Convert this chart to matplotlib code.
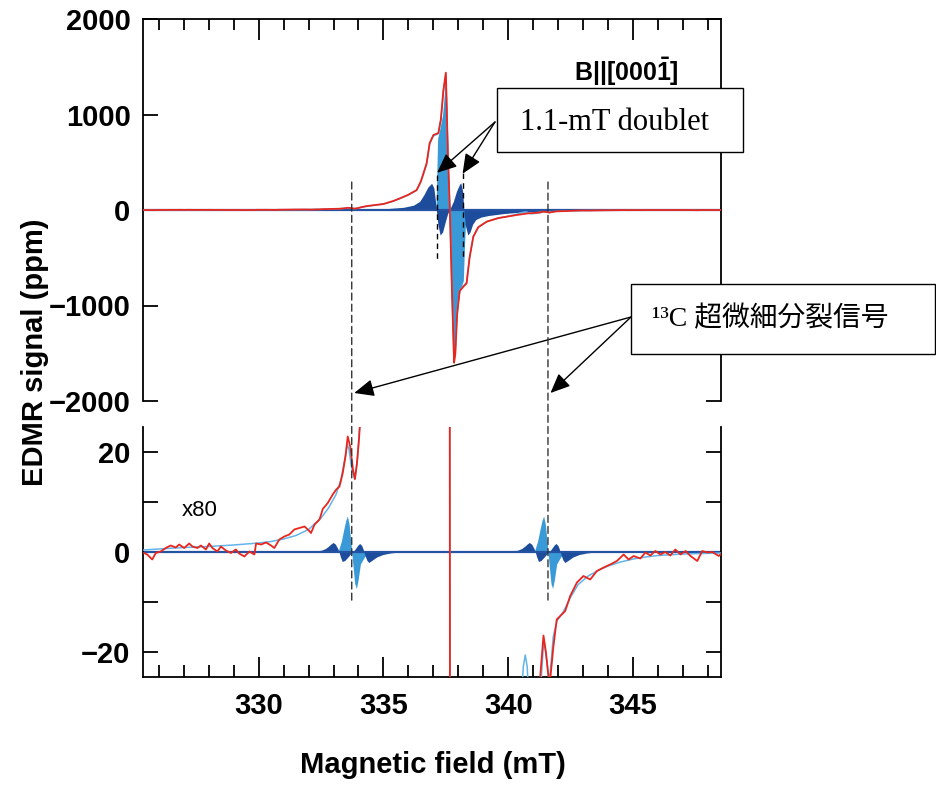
import numpy as np
import matplotlib.pyplot as plt
from matplotlib.ticker import MultipleLocator
from matplotlib.patches import Rectangle, ConnectionPatch

# ---- data ----
# experimental EDMR spectrum (red), field in mT, signal in ppm
exp_field = [325.41, 325.54, 325.74, 325.88, 326.08, 326.28, 326.48, 326.68, 326.82, 327.02,
             327.22, 327.35, 327.55, 327.69, 327.89, 328.02, 328.15, 328.35, 328.49, 328.69,
             328.89, 329.09, 329.22, 329.43, 329.63, 329.83, 329.9, 330.1, 330.3, 330.5,
             330.63, 330.83, 331.03, 331.23, 331.43, 331.63, 331.84, 331.97, 332.1, 332.24,
             332.44, 332.57, 332.77, 332.97, 333.11, 333.24, 333.37, 333.48, 333.57, 333.67,
             333.78, 333.86, 333.94, 334.02, 334.07,
             334.3, 334.6, 335.0, 335.4, 335.66, 336.0, 336.33, 336.5, 336.73, 336.85,
             337.0, 337.2, 337.3, 337.4, 337.5, 337.58, 337.66, 337.75, 337.83, 337.88,
             337.95, 338.05, 338.2, 338.33, 338.45, 338.6, 338.8, 339.14, 339.6, 340.34,
             340.8, 341.1,
             341.27, 341.41, 341.51, 341.65, 341.81, 341.94, 342.08, 342.28, 342.48, 342.61,
             342.75, 343.01, 343.28, 343.55, 343.82, 344.08, 344.35, 344.62, 344.82, 345.02,
             345.29, 345.49, 345.69, 345.89, 346.09, 346.29, 346.49, 346.69, 346.9, 347.1,
             347.3, 347.57, 347.77, 347.97, 348.17, 348.43, 348.52]
exp_ppm = [-0.2, -0.5, -1.5, -0.2, 0.1, 0.8, 1.3, 0.9, 1.5, 0.8,
           1.7, 1.1, 0.8, 1.3, 0.5, 1.7, 0.8, 0.1, 1.1, 0.3,
           -0.2, 0.5, -0.3, -0.9, 0.1, -0.5, 1.7, 1.5, 1.9, 1.3,
           0.8, 2.5, 3.1, 3.5, 4.5, 4.8, 5.1, 4.5, 3.8, 5.5,
           6.5, 8.6, 9.8, 11.5, 12.5, 13.1, 15.8, 19.1, 23.1, 21.1,
           16.5, 14.6, 17.8, 22.5, 26.5,
           40, 50, 63, 95, 122, 160, 209, 300, 489, 700,
           785, 806, 950, 1250, 1438, 600, 0, -900, -1600, -1500,
           -1100, -850, -803, -768, -500, -279, -180, -122, -85, -52,
           -35, -30,
           -25.5, -16.7, -20.1, -27, -18.8, -13.5, -12.8, -11.8, -8.8, -7.5,
           -6.1, -4.8, -5.5, -3.8, -3.1, -2.5, -1.8, -0.5, -1.5, -0.8,
           -1.3, -0.1, -0.7, 0.2, -0.5, 0, -0.7, 0.5, -0.5, 0.2,
           -0.8, -1.8, 0.2, -0.1, 0, -0.8, -0.4]

# simulated spectrum (light blue line)
sim_field = [325.37, 326.0, 327.0, 328.0, 329.0, 330.0, 330.5, 331.0, 331.5, 332.0,
             332.5, 332.8, 333.1, 333.3, 333.45, 333.55, 333.62, 333.72, 333.85, 333.95,
             334.05, 334.2, 334.6, 335.0, 335.4, 335.66, 336.0, 336.33, 336.5, 336.73,
             336.85, 337.0, 337.2, 337.3, 337.4, 337.5, 337.58, 337.66, 337.75, 337.83,
             337.88, 337.95, 338.05, 338.2, 338.33, 338.45, 338.6, 338.8, 339.14, 339.6,
             340.0, 340.4, 340.6, 340.68, 340.76, 340.9, 341.1, 341.3, 341.42, 341.52,
             341.65, 341.8, 341.95, 342.2, 342.5, 342.8, 343.2, 343.6, 344.0, 344.5,
             345.0, 345.5, 346.0, 347.0, 348.52]
sim_ppm = [0.4, 0.6, 0.9, 1.1, 1.4, 1.8, 2.1, 2.6, 3.3, 4.5,
           6.8, 8.8, 11.5, 14.5, 18.5, 21.5, 20.5, 17.0, 14.5, 18.0,
           25.0, 33, 48, 62, 92, 120, 158, 205, 295, 480,
           690, 775, 800, 940, 1240, 1420, 590, 0, -890, -1580,
           -1480, -1090, -840, -795, -760, -495, -275, -178, -120, -84,
           -65, -40, -23, -20.6, -23, -40, -35, -27, -17.5, -21,
           -26, -17, -13.8, -12, -9, -6.5, -4.8, -3.7, -2.8, -2.0,
           -1.4, -1.0, -0.7, -0.4, -0.2]

# central line component (light blue fill), offset from centre field
center_field = 337.67
ctr_dx = [-0.62, -0.56, -0.53, -0.5, -0.42, -0.3, -0.22, -0.17, -0.13, -0.08, -0.03,
          0.0, 0.03, 0.08, 0.16, 0.22, 0.3, 0.42, 0.53, 0.58, 0.64]
ctr_ppm = [0, 60, 400, 750, 840, 1000, 1250, 1430, 1100, 550, 150,
           0, -500, -1150, -1600, -1300, -1000, -820, -740, -350, 0]

# 1.1-mT doublet component (dark blue fill)
dbl_field = [333.0, 334.0, 335.0, 335.8, 336.2, 336.45, 336.62, 336.78, 336.93, 337.02,
             337.08, 337.12, 337.18, 337.27, 337.37, 337.47, 337.57, 337.64, 337.8, 337.93,
             338.05, 338.1, 338.17, 338.22, 338.28, 338.38, 338.47, 338.57, 338.7, 338.9,
             339.2, 339.8, 340.5, 341.5, 342.5, 343.5]
dbl_ppm = [0, 5, 12, 28, 50, 90, 160, 240, 280, 230,
           100, 0, -150, -262, -230, -130, -40, 0, 90, 200,
           270, 283, 200, 0, -160, -262, -230, -150, -100, -75,
           -58, -38, -22, -10, -4, 0]

# 13C hyperfine satellites (x80 panel)
sat_centers = [333.73, 341.59]
sat_dx = [-0.55, -0.415, -0.32, -0.24, -0.174, -0.107, -0.054, 0.0, 0.054, 0.12,
          0.187, 0.254, 0.348, 0.52, 0.72]
sat_val = [0, 2.2, 4.5, 6.3, 7.2, 5.6, 3.0, 0, -3.0, -6.3,
           -7.3, -5.6, -2.4, -0.9, 0]
satd_dx = [-2.6, -2.0, -1.5, -1.22, -1.05, -0.92, -0.82, -0.75, -0.66, -0.56,
           -0.51, -0.45, -0.38, -0.28, -0.15, -0.05, 0.05, 0.15, 0.25, 0.32,
           0.4, 0.46, 0.52, 0.6, 0.68, 0.8, 1.0, 1.25, 1.55, 1.9]
satd_val = [0, 0.1, 0.2, 0.35, 0.7, 1.2, 1.65, 1.9, 1.6, 0.7,
            0, -1.0, -1.9, -1.7, -1.0, -0.4, 0, 0.7, 1.4, 1.7,
            1.3, 0.5, -0.5, -1.6, -2.1, -1.7, -1.0, -0.5, -0.2, 0]

doublet_lines = [337.15, 338.17]

RED = '#e8261e'
SIM = '#62b4ea'
LIGHT = '#3a9ad8'
DARK = '#1e4c9c'
BASE = '#2553a3'
FONT = ['Liberation Sans Narrow', 'Liberation Sans', 'DejaVu Sans']

plt.rcParams['font.family'] = FONT
plt.rcParams['font.weight'] = 'bold'
plt.rcParams['axes.linewidth'] = 1.3
plt.rcParams['mathtext.default'] = 'regular'

W, H = 936, 785


def px(x, y):
    return (x / W, 1 - y / H)


fig = plt.figure(figsize=(9.36, 7.85), dpi=100)
ax1 = fig.add_axes([143 / W, 1 - 401 / H, (721 - 143) / W, (401 - 19) / H])
ax2 = fig.add_axes([143 / W, 1 - 677 / H, (721 - 143) / W, (677 - 427) / H], sharex=ax1)

# top panel
ax1.fill_between(center_field + np.array(ctr_dx), 0, ctr_ppm, color=LIGHT, lw=0, zorder=1)
ax1.fill_between(dbl_field, 0, dbl_ppm, color=DARK, lw=0, zorder=1.5)
ax1.axhline(0, color=BASE, lw=1.6, zorder=2)
ax1.plot(sim_field, sim_ppm, color=SIM, lw=1.1, zorder=3)
ax1.plot(exp_field, exp_ppm, color=RED, lw=1.3, zorder=4)
for xd, (y0, y1) in zip(doublet_lines, [(366, -545), (387, -503)]):
    ax1.plot([xd, xd], [y0, y1], color='black', lw=1, ls=(0, (4, 3)), zorder=5)

# bottom panel (x80)
for c in sat_centers:
    ax2.fill_between(c + np.array(sat_dx), 0, sat_val, color=LIGHT, lw=0, zorder=1)
    ax2.fill_between(c + np.array(satd_dx), 0, satd_val, color=DARK, lw=0, zorder=1.5)
ax2.axhline(0, color=BASE, lw=1.6, zorder=2)
ax2.plot(sim_field, sim_ppm, color=SIM, lw=1.1, zorder=3)
ax2.plot(exp_field, exp_ppm, color=RED, lw=1.3, zorder=4)

ax1.set_xlim(325.37, 348.52)
ax1.set_ylim(-2000, 2000)
ax2.set_ylim(-25, 25)

ax1.xaxis.set_major_locator(MultipleLocator(5))
ax1.xaxis.set_minor_locator(MultipleLocator(1))
ax1.set_yticks([-2000, -1000, 0, 1000, 2000])
ax2.set_yticks([-20, -10, 0, 10, 20], labels=['\u221220', '', '0', '', '20'])

ax1.spines['bottom'].set_visible(False)
ax2.spines['top'].set_visible(False)

ax1.tick_params(axis='x', which='both', direction='in', top=True, bottom=False,
                labelbottom=False, width=1.3)
ax1.tick_params(axis='x', which='major', length=15)
ax1.tick_params(axis='x', which='minor', length=8)
ax2.tick_params(axis='x', which='both', direction='in', top=False, bottom=True,
                labelsize=21, pad=11, width=1.3)
ax2.tick_params(axis='x', which='major', length=14.5)
ax2.tick_params(axis='x', which='minor', length=8.5)
for ax in (ax1, ax2):
    ax.tick_params(axis='y', direction='in', left=True, right=True, length=11,
                   width=1.3, labelsize=21, pad=9)

# long dashed guide lines for 13C satellites through both panels
for xs in sat_centers:
    con = ConnectionPatch(xyA=(xs, 293), coordsA=ax1.transData,
                          xyB=(xs, -10.2), coordsB=ax2.transData,
                          color='#333333', lw=1, ls=(0, (5, 3)), zorder=5)
    fig.add_artist(con)

# labels
fig.text(*px(35, 352), 'EDMR signal (ppm)', rotation=90, ha='center', va='center',
         fontsize=21, weight='bold')
fig.text(*px(433, 765), 'Magnetic field (mT)', ha='center', va='center',
         fontsize=21, weight='bold')
fig.text(*px(626, 72), r'B||[000$\bar{1}$]', ha='center', va='center',
         fontsize=18, weight='bold')
fig.text(*px(182, 510), 'x80', ha='left', va='center', fontsize=16,
         weight='normal', family=['Liberation Sans', 'DejaVu Sans'])

# annotation boxes
fig.add_artist(Rectangle(px(497, 152), 246 / W, 64 / H, transform=fig.transFigure,
                         facecolor='white', edgecolor='black', lw=1, zorder=6))
fig.text(*px(614, 123), '1.1-mT doublet', ha='center', va='center', fontsize=22,
         weight='normal', family=['Liberation Serif', 'DejaVu Serif'], zorder=7)
fig.add_artist(Rectangle(px(631, 354), 304 / W, 70 / H, transform=fig.transFigure,
                         facecolor='white', edgecolor='black', lw=1, zorder=6))
fig.text(*px(652, 319), '\u00b9\u00b3C 超微細分裂信号', ha='left', va='center',
         fontsize=20, weight='normal',
         family=['Liberation Serif', 'Noto Sans CJK JP', 'DejaVu Serif'], zorder=7)

arrow = dict(arrowstyle='-|>,head_length=0.8,head_width=0.35', color='black',
             lw=1, shrinkA=0, shrinkB=0, mutation_scale=15)
for xd, yd in zip(doublet_lines, [390, 380]):
    ax1.annotate('', xy=(xd, yd), xycoords='data', xytext=(495, H - 122),
                 textcoords='figure pixels', arrowprops=arrow, zorder=8)
for xs in sat_centers:
    ax1.annotate('', xy=(xs + 0.1, -1916), xycoords='data', xytext=(631, H - 317),
                 textcoords='figure pixels', arrowprops=arrow, zorder=8,
                 annotation_clip=False)

fig.savefig('out.png', dpi=100)
